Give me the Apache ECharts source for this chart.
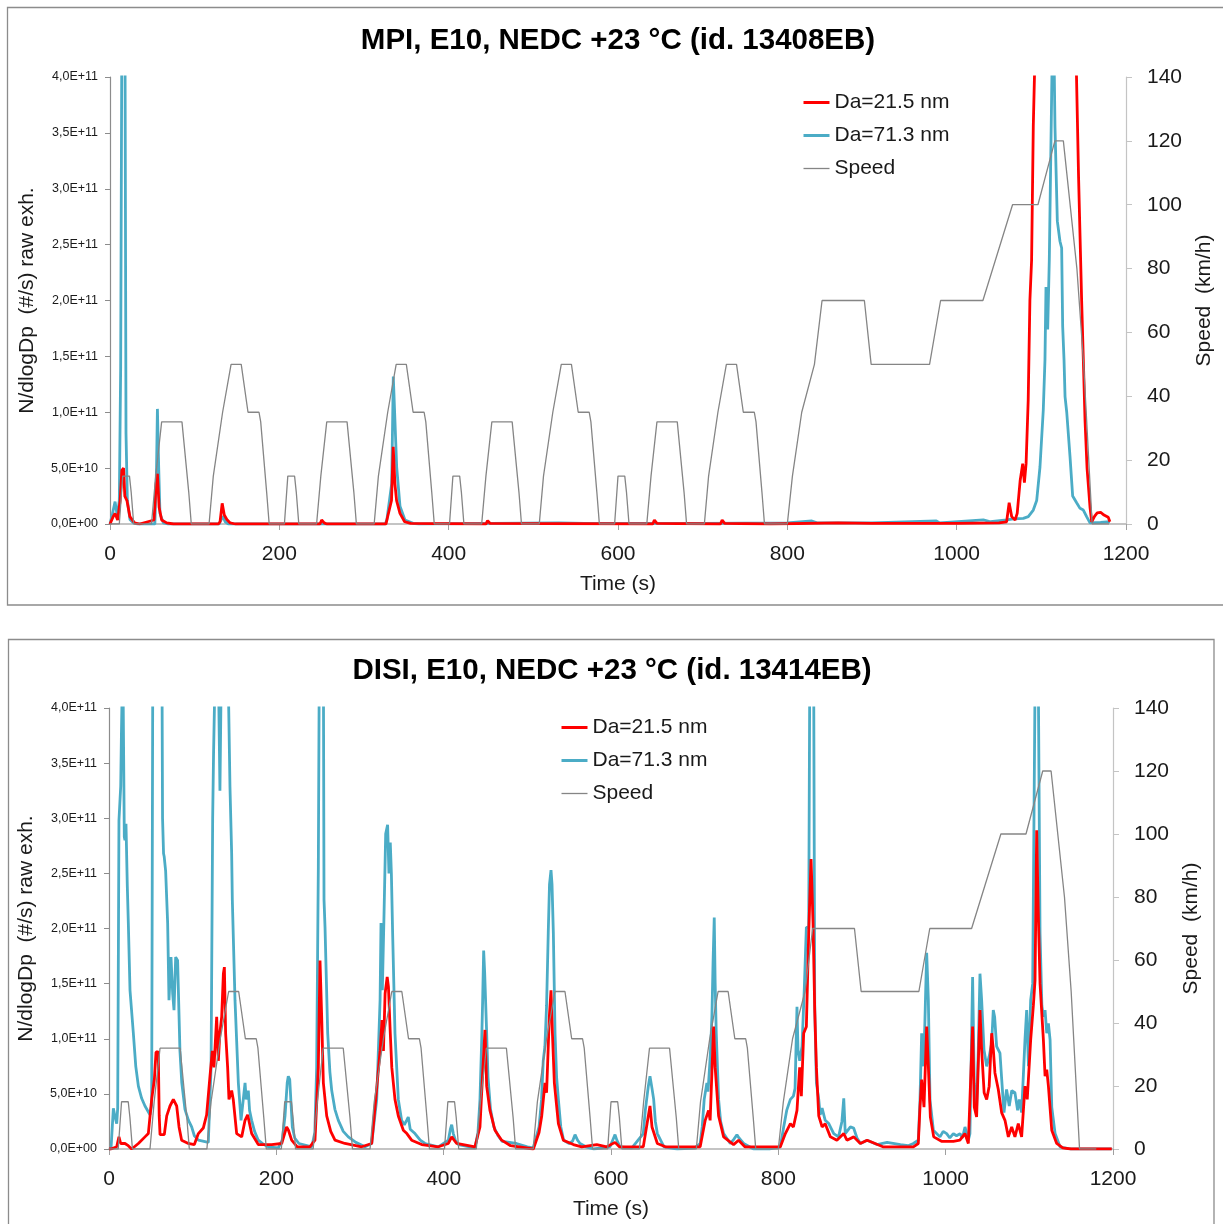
<!DOCTYPE html>
<html>
<head>
<meta charset="utf-8">
<script src="https://cdn.jsdelivr.net/npm/echarts@6/dist/echarts.min.js"></script>
<style>
html,body{margin:0;padding:0;background:#fff;}
#chart{width:1223px;height:1224px;}
</style>
</head>
<body>
<div id="chart"></div>
<script>
// ---------- DATA ----------
const titles = ['MPI, E10, NEDC +23 °C (id. 13408EB)', 'DISI, E10, NEDC +23 °C (id. 13414EB)'];
const seriesNames = ['Da=21.5 nm', 'Da=71.3 nm', 'Speed'];
const xTitle = 'Time (s)';
const yLeftTitle = 'N/dlogDp  (#/s) raw exh.';
const yRightTitle = 'Speed  (km/h)';

// NEDC speed trace (time s, speed km/h)
const nedcTime = [0,11,15,23,25,28,49,54,56,61,85,93,96,117,122,124,133,135,143,155,163,176,178,185,188,195,
  206,210,218,220,223,244,249,251,256,280,288,291,312,317,319,328,330,338,350,358,371,373,380,383,390,
  401,405,413,415,418,439,444,446,451,475,483,486,507,512,514,523,525,533,545,553,566,568,575,578,585,
  596,600,608,610,613,634,639,641,646,670,678,681,702,707,709,718,720,728,740,748,761,763,770,773,780,
  800,806,808,817,819,832,834,841,891,899,968,981,1031,1066,1096,1116,1126,1142,1150,1160,1180];
const nedcSpeed = [0,0,15,15,10,0,0,15,15,32,32,10,0,0,15,15,35,35,50,50,35,35,32,10,0,0,
  0,15,15,10,0,0,15,15,32,32,10,0,0,15,15,35,35,50,50,35,35,32,10,0,0,
  0,15,15,10,0,0,15,15,32,32,10,0,0,15,15,35,35,50,50,35,35,32,10,0,0,
  0,15,15,10,0,0,15,15,32,32,10,0,0,15,15,35,35,50,50,35,35,32,10,0,0,
  0,15,15,35,35,50,50,70,70,50,50,70,70,100,100,120,120,80,50,0,0];

// MPI particle concentration, units of 1E+10 #/s  [time s, value]
const mpiDa21 = [[0,0],[4,0.7],[6,0.95],[9,0.36],[12,2.1],[14,4.8],[16,5.0],[17.5,2.5],[20,2.1],[23.5,0.66],[29,0.1],[35,0],
  [52,0.36],[54.5,3.6],[56,4.5],[58,1.5],[61,0.36],[67,0.1],[75,0],[128,0],[130,0.2],[132.5,1.85],[133.5,1.9],[135,0.8],[138,0.4],[142,0.1],[148,0],
  [248,0],[250,0.36],[253,0.1],[256,0],[326,0],[327,0.36],[332.5,2.1],[334.5,6.9],[336.5,3.6],[338.5,2.1],[342.5,0.95],[348,0.2],[355,0.05],
  [444,0],[446,0.3],[449,0.05],[641,0],[643,0.35],[646,0.05],[721,0],[723,0.35],[726,0.05],[780,0],[860,0.1],[900,0.05],[1000,0.05],[1050,0.1],
  [1059,0.2],[1062,1.9],[1065,0.66],[1069,0.36],[1071.5,0.95],[1075,3.9],[1078,5.4],[1080,3.7],[1082,5.4],[1084.5,11.1],[1086.5,20],[1088.5,23.6],
  [1090.5,35.6],[1092.5,42],[1100,60],[1115,70],[1130,60],[1141,42],[1144,31],[1147.6,20],[1149.6,14.7],[1151.6,9.3],[1154,5],[1157.5,1.5],[1159.5,0.2],
  [1163,0.7],[1166,1.0],[1170,1.05],[1174,0.8],[1179,0.6],[1181,0.2]];
const mpiDa71 = [[0,0],[3,0.95],[6,2.0],[8.7,0.66],[11,2.1],[12.6,14],[14.5,55],[16,65],[17.5,50],[18.9,8.1],[20.5,2.1],[23.6,0.4],[27.5,0.1],[32,0],
  [53,0],[55,5.1],[56,10.3],[57.5,5.1],[59,0.95],[63,0.1],[68,0],[129,0],[130,0.2],[133.5,0.7],[136,0.2],[140,0],
  [325,0],[327,0.36],[332.7,3.6],[334.6,13.2],[336.6,13.3],[338.6,5.1],[342.5,1.6],[348.4,0.36],[358,0.06],[365,0],[450,0.05],[530,0.1],[560,0.05],
  [700,0.05],[800,0.1],[829,0.27],[835,0.1],[900,0.1],[976,0.27],[980,0.1],[1031.5,0.36],[1040,0.2],[1059,0.36],[1067,0.45],[1078.7,0.5],
  [1084.6,0.66],[1090.5,1.25],[1094.5,2.1],[1098.4,5.1],[1102.3,10.2],[1104.3,14.7],[1105.5,21.2],[1107.5,17.4],[1109.4,23.6],[1112.2,38.5],
  [1114,48],[1116.1,35.6],[1118.9,27.1],[1122,25.3],[1124,24.7],[1125.2,17.7],[1126.8,14.7],[1128,11.4],[1130,10],[1133.9,6.0],[1137,2.5],
  [1141.7,1.9],[1145.7,1.4],[1149.6,1.25],[1153.5,0.66],[1157.5,0.1],[1170,0.15],[1181,0.2]];

// DISI particle concentration, units of 1E+10 #/s  [time s, value]
const disiDa21 = [[0,0],[2.4,0],[9.2,0.2],[11.9,1.1],[14,0.5],[19.1,0.5],[23,0.3],[27.1,0],[35.1,0.5],[43,1.1],[47,1.4],[51,4.5],[54.2,6.3],
  [56.2,8.8],[58.9,8.8],[60,3.0],[61,1.3],[66.1,1.3],[69,3.0],[72.9,3.9],[76.9,4.5],[80.9,3.9],[83.7,2.0],[86.8,0.8],[94.8,0.5],[102,0.4],
  [106.8,1.4],[112.7,1.9],[116.7,3.1],[120.7,6.6],[123.5,8.9],[125.5,7.4],[128.7,12],[130.7,8.0],[132.5,10.5],[134.7,12],[136.7,15.9],[137.9,16.5],
  [139.4,10.5],[141.8,7.4],[143.4,4.5],[146.6,5.3],[148.5,4.5],[152.6,1.4],[158.6,1.1],[162.6,2.6],[165.7,3.1],[170.5,1.4],[178.4,0.4],[194.4,0.4],
  [206.4,0.5],[212.3,2.0],[214.5,1.7],[218.3,0.8],[225,0.2],[240,0.2],[246.2,0.8],[250.2,7.4],[252.2,17.1],[254.2,12],[256.2,6],[260.2,3.0],
  [265,1.6],[270.1,0.8],[282,0.5],[302,0.2],[314,0.5],[318.8,4.5],[324,8.9],[326.3,11.7],[328,8.9],[330,14.1],[332.5,15.6],[334,14.7],[336.2,10.5],
  [338,7.4],[341.8,4.5],[345.8,3.0],[351.8,1.7],[356,1.4],[361.7,0.8],[373.7,0.4],[393.6,0.2],[405.6,0.5],[409.6,1.1],[415.5,0.5],[437.4,0.2],
  [443.4,2],[446.6,6.9],[449.4,10.8],[451.4,5.7],[455.3,3.5],[461.3,1.7],[469.3,0.8],[480,0.3],[507.2,0],[514,1.5],[517.2,3.0],[521.1,6],[523,5.1],
  [526.3,12],[528.3,14.4],[530,10.5],[532.3,6],[537.1,2.3],[543,0.8],[555,0.4],[565,0.2],[583,0.4],[595,0.2],[604.8,0.6],[610,0.2],[638.6,0.2],
  [644.6,3.0],[646.6,3.9],[649,2.0],[655.4,0.5],[665,0.2],[706.6,0.2],[712.6,2.6],[716.6,3.5],[718.5,2.6],[722.6,11.1],[724.5,7.4],[728.6,3.0],
  [734.6,1.1],[746.5,0.4],[752.5,0.8],[760,0.2],[802.4,0.2],[808.4,1.4],[814.4,2.3],[818,2.0],[822.3,3.5],[825.5,7.4],[827.5,4.8],[830.3,10.5],
  [833.5,11.1],[836.3,19.6],[839.1,26.3],[841.5,20.5],[843.5,12.6],[845.5,7.4],[848.3,3.0],[852.3,2.0],[856,2.3],[862.2,1.1],[870,0.8],[878.2,1.4],
  [882,0.8],[890.1,1.1],[898,0.5],[906.1,0.8],[925,0.2],[961.4,0.2],[967.3,0.5],[969.3,3.8],[971.3,6.3],[974.1,3.8],[977.3,11.1],[979.3,7.5],
  [981.7,2.9],[985.7,1.1],[995,0.7],[1009.2,0.7],[1017,0.8],[1023,1.4],[1027.1,0.5],[1032.2,11.1],[1034.2,3.8],[1037,2.9],[1041,12.6],[1043,9],
  [1046,5.1],[1049,4.5],[1052,5.7],[1055,10.5],[1057,9.0],[1058.9,6.9],[1062.9,5.4],[1066.9,3.3],[1070.9,2.6],[1074.9,1.1],[1078.9,2.0],[1082.8,1.1],
  [1086.8,2.3],[1090.8,1.1],[1094.8,5.7],[1097.5,4.5],[1101.6,9.9],[1104.8,13.0],[1106.8,15.3],[1108.8,28.9],[1110.5,22],[1112.8,15.0],[1116.8,9.9],
  [1118.8,6.6],[1120.8,7.2],[1122.8,5.7],[1126.8,1.7],[1132.7,0.5],[1140,0.1],[1150,0],[1198.5,0]];
const disiDa71 = [[0,0],[2.4,0],[5.2,3.7],[7,3.0],[9.2,2.3],[10.4,3.7],[11.9,29.8],[14,32.9],[14.8,37.4],[16.5,45],[17.5,45],[18.3,28.3],[19.1,28],
  [20.3,29.5],[21.9,23.8],[23.1,20.5],[25.1,14.4],[29.1,10.5],[32,7.5],[35.1,5.7],[39,4.6],[43,3.9],[49,3.1],[51,4],[52.2,40],[53,55],[58,60],
  [63,50],[64,30],[65.2,26.8],[66,26.5],[67.7,25.2],[70.1,20.5],[71.7,13.5],[74.1,17.4],[76.1,14.1],[77.7,12.6],[79.7,17.4],[82,17.1],[84.8,8.9],
  [87,6],[90.8,3.6],[95,2.6],[98.8,2.0],[102,1.2],[106.8,0.8],[118.7,0.6],[122,7.4],[123.9,30],[125,36],[126.5,42],[129,50],[131,42],[132.6,32.5],
  [134,42],[138,50],[142,45],[143.5,38],[144.6,32.8],[146.6,26.8],[147.4,22.6],[150.6,13.5],[154.6,6],[157.8,2.6],[160,2.7],[162.6,6.0],[164,4.5],
  [166.5,5.3],[168,3.5],[170.5,2.6],[174,1.6],[178.4,0.8],[185,0.4],[190.4,0.2],[202.4,0.1],[207,0.8],[210.4,3],[213,6.0],[214.3,6.6],[216,6.3],
  [219.1,2],[222,1.0],[227,0.5],[242.4,0.2],[246,1.5],[248.2,7.4],[250.2,25.6],[251.4,45],[254,50],[256.2,45],[257,22.6],[258.2,20.1],[261.4,10.5],
  [264,7],[266.2,5.3],[270,3.6],[274.1,2.6],[280,1.6],[286,1.1],[295,0.6],[306,0.2],[314,0.5],[317,2.5],[320,4.5],[324,13.5],[325.1,20.5],
  [326.7,14.4],[328.5,20.5],[330.7,28.6],[333,29.4],[334.6,25],[336.2,27.8],[337.5,25],[339,19.6],[341.8,10.5],[345.8,4.5],[349.7,2.6],[353,2.2],
  [355.7,2.6],[357.7,2.9],[360,1.8],[365.7,1.4],[372,0.8],[377.7,0.5],[393.6,0.2],[405.6,0.8],[408,1.8],[409.6,2.2],[411.5,1.4],[414,0.8],
  [417.5,0.4],[437.4,0.1],[441,1.5],[443.4,4.5],[445.5,10],[446.6,13.5],[447.8,18],[449,16],[451.4,10.5],[453,6.5],[456,3.6],[460,2],[465,1.2],
  [470,0.7],[487,0.5],[500,0.2],[507,0.1],[514,2],[517,4.5],[519,8],[521,9.3],[523,13],[525,19.6],[526.5,24],[528.3,25.3],[529.5,24],[531.1,19.6],
  [533.1,10.5],[535,6.5],[537.1,4.5],[540,2],[543.4,0.8],[550,0.5],[554,0.7],[557,1.3],[560,0.8],[563,0.5],[570,0.2],[579,0],[598.8,0.2],[602,0.8],
  [604.8,1.3],[607,0.8],[610.7,0.2],[625,0.1],[638.6,1.4],[641,3.5],[644.6,5.7],[646.6,6.6],[649,5.5],[651,4.5],[653,2.5],[655.4,1.4],[663.3,0.2],
  [679.3,0],[700,0.1],[706.6,0.5],[709,2],[711.4,4.5],[714.6,6.0],[716,5.2],[717.8,7.4],[719,9],[720.6,12],[722,17],[723.4,21],[724.5,15],
  [725.8,10.5],[728.6,4.5],[731,2.5],[734.6,1.4],[742.6,0.5],[747,0.9],[750.5,1.3],[753,1.0],[758.5,0.5],[770.5,0],[790,0],[802.4,0.2],[806.4,2.0],
  [810,3.5],[814.4,4.5],[818,4.8],[820,5.5],[822.3,12.9],[823.5,9],[825.5,8],[828.3,9.3],[831.1,14.7],[833.5,20.1],[836.3,20.1],[837.5,42],[839,50],
  [841,50],[842.3,42],[843.5,12.9],[845.5,6],[848.3,4.5],[850,3.1],[852.3,3.7],[856,2.6],[860.3,2.3],[866.2,1.4],[872,1.1],[876,2.5],[878.2,4.6],
  [880,1.4],[886.1,2.0],[890,1.9],[894,1.0],[898.1,0.5],[906.1,0.8],[918,0.4],[930,0.6],[946,0.4],[955,0.3],[961.4,0.5],[967.3,0.8],[969.3,4.4],
  [971.3,10.5],[973.3,7.5],[975,11],[977.3,17.8],[979.3,13.5],[981.3,4.4],[985.3,1.7],[993.2,1.1],[997,1.6],[1001.2,1.4],[1005,1.0],[1009.2,1.4],
  [1013,1.2],[1017.2,1.4],[1020,1.0],[1023.1,2.0],[1027.1,0.8],[1029,1.4],[1032.2,15.6],[1034.2,5.9],[1037,3.8],[1039,9],[1041,15.9],[1043,13.5],
  [1045.8,9.0],[1049,7.5],[1052,8.4],[1055,9.6],[1056.9,12.6],[1058.5,12.0],[1060.9,9.3],[1064.9,8.7],[1067,6.3],[1069.7,3.3],[1072.8,5.4],
  [1076,3.9],[1079,5.3],[1082.8,5.1],[1086,3.5],[1088,4.5],[1090.8,3.3],[1094.8,9.9],[1096.8,12.6],[1099,7.5],[1101.6,13.5],[1104,15],[1106.8,42],
  [1108.5,50],[1110.8,42],[1112.8,19.5],[1115,13],[1116.8,12.0],[1118.8,12.6],[1120.8,10.5],[1122.8,11.4],[1124.8,9.9],[1126.8,3.8],[1130.8,1.4],
  [1136.7,0.2],[1148.7,0],[1198.5,0]];

const leftTicks = ['0,0E+00','5,0E+10','1,0E+11','1,5E+11','2,0E+11','2,5E+11','3,0E+11','3,5E+11','4,0E+11'];

// ---------- CHART ----------
const FONT = '"Liberation Sans", Arial, sans-serif';
const TXT = '#1a1a1a';
const RED = '#FF0000', BLUE = '#4BACC6', GREY = '#858585';
const speedPairs = nedcTime.map((t, i) => [t, nedcSpeed[i]]);

const panels = [
  {grid: {left: 110, top: 77, width: 1016, height: 447}, title: {left: 613, top: 21}, legend: {left: 802, top: 92}},
  {grid: {left: 109, top: 708, width: 1004, height: 441}, title: {left: 607, top: 651}, legend: {left: 560, top: 717}}
];
const dataSets = [[mpiDa21, mpiDa71], [disiDa21, disiDa71]];
const legendWidths = [3, 3, 1.3];
const legendColors = [RED, BLUE, GREY];

const option = {
  backgroundColor: '#fff',
  animation: false,
  textStyle: {fontFamily: FONT},
  title: panels.map((p, i) => ({
    text: titles[i], left: p.title.left, top: p.title.top, textAlign: 'center',
    textStyle: {fontFamily: FONT, fontSize: 29.5, fontWeight: 'bold', color: '#000'}
  })),
  legend: panels.map((p, i) => ({
    orient: 'vertical', left: p.legend.left, top: p.legend.top, padding: 0,
    itemWidth: 26, itemHeight: 14, itemGap: 12, selectedMode: false,
    itemStyle: {opacity: 0},
    textStyle: {fontFamily: FONT, fontSize: 21, color: TXT},
    data: seriesNames.map((n, k) => ({name: n, lineStyle: {width: legendWidths[k], color: legendColors[k]}}))
  })),
  grid: panels.map(p => Object.assign({outerBoundsMode: 'none'}, p.grid)),
  xAxis: panels.map((p, i) => ({
    gridIndex: i, type: 'value', min: 0, max: 1200, interval: 200,
    name: xTitle, nameLocation: 'middle', nameGap: 50, nameMoveOverlap: false,
    nameTextStyle: {fontFamily: FONT, fontSize: 21, color: TXT},
    axisLine: {show: true, onZero: false, lineStyle: {color: '#C4C4C4', width: 2}},
    axisTick: {show: true, length: 6, lineStyle: {color: '#A0A0A0'}},
    axisLabel: {fontFamily: FONT, fontSize: 21, color: TXT, margin: 20, formatter: v => String(v)},
    splitLine: {show: false}
  })),
  yAxis: [].concat(...panels.map((p, i) => ([
    {
      gridIndex: i, type: 'value', min: 0, max: 40, interval: 5, position: 'left',
      name: yLeftTitle, nameLocation: 'middle', nameGap: 72, nameRotate: 90, nameMoveOverlap: false,
      nameTextStyle: {fontFamily: FONT, fontSize: 21, color: TXT},
      axisLine: {show: true, lineStyle: {color: '#8C8C8C', width: 1.2}},
      axisTick: {show: true, length: 5, lineStyle: {color: '#8C8C8C'}},
      axisLabel: {fontFamily: FONT, fontSize: 12.5, color: TXT, margin: 12,
        formatter: v => leftTicks[Math.round(v / 5)]},
      splitLine: {show: false}
    },
    {
      gridIndex: i, type: 'value', min: 0, max: 140, interval: 20, position: 'right',
      name: yRightTitle, nameLocation: 'middle', nameGap: 68, nameRotate: 90, nameMoveOverlap: false,
      nameTextStyle: {fontFamily: FONT, fontSize: 21, color: TXT},
      axisLine: {show: true, lineStyle: {color: '#C4C4C4', width: 1.2}},
      axisTick: {show: true, inside: false, length: 6, lineStyle: {color: '#C4C4C4'}},
      axisLabel: {fontFamily: FONT, fontSize: 21, color: TXT, margin: 21},
      splitLine: {show: false}
    }
  ]))),
  series: [].concat(...panels.map((p, i) => ([
    {name: seriesNames[1], type: 'line', xAxisIndex: i, yAxisIndex: 2 * i, data: dataSets[i][1],
     symbol: 'none', clip: true, z: 2, lineStyle: {color: BLUE, width: 2.8}, itemStyle: {color: BLUE}},
    {name: seriesNames[0], type: 'line', xAxisIndex: i, yAxisIndex: 2 * i, data: dataSets[i][0],
     symbol: 'none', clip: true, z: 3, lineStyle: {color: RED, width: 2.8}, itemStyle: {color: RED}},
    {name: seriesNames[2], type: 'line', xAxisIndex: i, yAxisIndex: 2 * i + 1, data: speedPairs,
     symbol: 'none', clip: true, z: 4, lineStyle: {color: GREY, width: 1.3}, itemStyle: {color: GREY}}
  ]))),
  graphic: [
    {type: 'rect', silent: true, z: -10, shape: {x: 7.5, y: 7.5, width: 1240, height: 597.5},
     style: {fill: 'none', stroke: '#8C8C8C', lineWidth: 1.3}},
    {type: 'rect', silent: true, z: -10, shape: {x: 8.5, y: 639.5, width: 1205.5, height: 620},
     style: {fill: 'none', stroke: '#8C8C8C', lineWidth: 1.3}}
  ]
};

const chart = echarts.init(document.getElementById('chart'), null, {renderer: 'canvas'});
chart.setOption(option);
</script>
</body>
</html>
